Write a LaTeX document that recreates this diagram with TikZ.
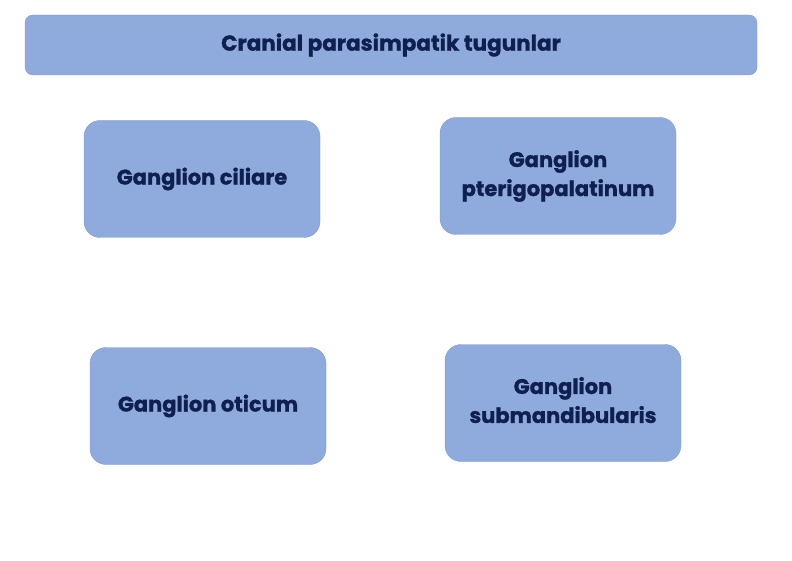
\documentclass[tikz,border=0pt]{standalone}
\usepackage{fontspec}
\setmainfont{Poppins}[BoldFeatures={FakeBold=1.2}]
\definecolor{boxfill}{HTML}{8FAADC}
\definecolor{boxline}{HTML}{7F9CD2}
\definecolor{textnavy}{HTML}{0F1F4F}
\tikzset{
  gbox/.style={draw=boxline, fill=boxfill, rounded corners=16pt, minimum width=236pt, minimum height=117pt,
    text=textnavy, align=center, font=\fontsize{21pt}{29pt}\selectfont\bfseries},
}
\begin{document}
\begin{tikzpicture}[x=1pt, y=-1pt]
    \useasboundingbox (0,0) rectangle (792,561);

    % sarlavha
    \node[gbox, rounded corners=8pt, minimum width=732pt, minimum height=60pt,
      font=\fontsize{21.5pt}{29pt}\selectfont\bfseries] (title) at (391,45) {Cranial parasimpatik tugunlar};

    % tugunlar
    \node[gbox] (ciliare) at (202,179) {Ganglion ciliare};
    \node[gbox] (pterigo) at (558,176) {Ganglion\\pterigopalatinum};
    \node[gbox] (oticum) at (208,406) {Ganglion oticum};
    \node[gbox] (submand) at (563,403) {Ganglion\\submandibularis\\[-23pt]\mbox{}};
  \end{tikzpicture}
\end{document}
